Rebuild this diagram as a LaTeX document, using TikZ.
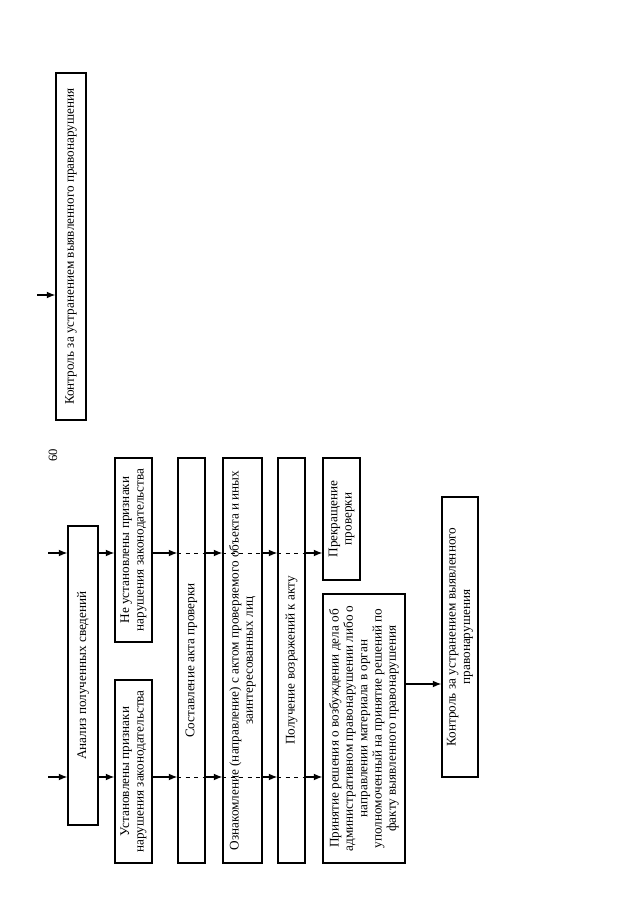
\documentclass[tikz,border=0pt]{standalone}
\usepackage{fontspec}
\setmainfont{Liberation Serif}
\usepackage{tikz}
\usetikzlibrary{
    arrows.meta,
    positioning,
    calc
}

\newlength{\px}
\setlength{\px}{0.025cm}

\begin{document}
\begin{tikzpicture}[
        x=0.025cm, y=-0.025cm,
        % boxes are turned: north is the left side, south the right side
        box/.style={
            rectangle,
            draw,
            rotate=90,
            align=center,
            line width=1.1pt,
            inner sep=0pt,
            font=\fontsize{9.4}{10.2}\selectfont
        },
        line/.style={
            -{Latex[length=2.1mm, width=1.7mm]},
            line width=0.8pt
        },
        through/.style={
            dashed,
            line width=0.7pt
        }
    ]

    \useasboundingbox (0,0) rectangle (640,905);

    \node[font=\fontsize{9}{10}\selectfont, rotate=90] (pagenum) at (53,455) {60};

    \node[box, minimum width=347\px, minimum height=30\px] (control2) at (71,246.5)
        {Контроль за устранением выявленного правонарушения};

    \node[box, minimum width=299\px, minimum height=30\px] (analysis) at (83,675.5)
        {Анализ полученных сведений};

    \node[box, minimum width=184\px, minimum height=37\px] (nofound) at (133.5,550)
        {Не установлены признаки\\нарушения законодательства};

    \node[box, minimum width=183\px, minimum height=37\px] (found) at (133.5,771.5)
        {Установлены признаки\\нарушения законодательства};

    \node[box, minimum width=405\px, minimum height=27\px] (report) at (191.5,660.5)
        {Составление акта проверки};

    \node[box, minimum width=405\px, minimum height=39\px] (acquaint) at (242.5,660.5)
        {Ознакомление (направление) с актом проверяемого объекта и иных\\
         заинтересованных лиц};

    \node[box, minimum width=405\px, minimum height=27\px] (objection) at (291.5,660.5)
        {Получение возражений к акту};

    \node[box, minimum width=122\px, minimum height=37\px] (stop) at (341.5,519)
        {Прекращение\\проверки};

    \node[box, minimum width=269\px, minimum height=82\px] (decision) at (364,728.5)
        {Принятие решения о возбуждении дела об\\
         административном правонарушении либо о\\
         направлении материала в орган\\
         уполномоченный на принятие решений по\\
         факту выявленного правонарушения};

    \node[box, minimum width=280\px, minimum height=36\px] (control) at (460,637)
        {Контроль за устранением выявленного\\правонарушения};

    % rows of the two branches
    \coordinate (row1) at (0,553);
    \coordinate (row2) at (0,777);
    \coordinate (in1) at (48,553);
    \coordinate (in2) at (48,777);
    \coordinate (in3) at (37,295);

    \draw[line] (in3) -- (control2.north |- in3);

    \draw[line] (in1) -- (analysis.north |- in1);
    \draw[line] (in2) -- (analysis.north |- in2);

    \draw[line] (analysis.south |- row1) -- (nofound.north |- row1);
    \draw[line] (analysis.south |- row2) -- (found.north |- row2);

    \draw[line] (nofound.south |- row1) -- (report.north |- row1);
    \draw[line] (found.south |- row2) -- (report.north |- row2);

    \foreach \b in {report, acquaint, objection} {
        \draw[through] (\b.north |- row1) -- (\b.south |- row1);
        \draw[through] (\b.north |- row2) -- (\b.south |- row2);
    }

    \draw[line] (report.south |- row1) -- (acquaint.north |- row1);
    \draw[line] (report.south |- row2) -- (acquaint.north |- row2);

    \draw[line] (acquaint.south |- row1) -- (objection.north |- row1);
    \draw[line] (acquaint.south |- row2) -- (objection.north |- row2);

    \draw[line] (objection.south |- row1) -- (stop.north |- row1);
    \draw[line] (objection.south |- row2) -- (decision.north |- row2);

    \draw[line] (decision.south |- 0,684) -- (control.north |- 0,684);

\end{tikzpicture}
\end{document}
